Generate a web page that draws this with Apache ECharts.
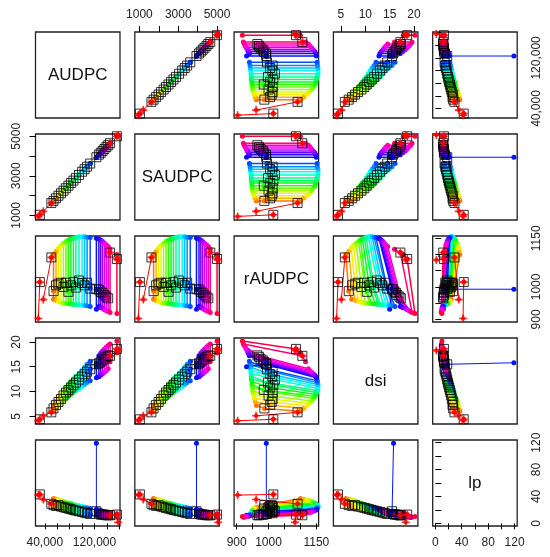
<!DOCTYPE html>
<html>
<head>
<meta charset="utf-8">
<script src="https://cdn.jsdelivr.net/npm/echarts@6/dist/echarts.min.js"></script>
<style>html,body{margin:0;background:#fff}#chart{width:550px;height:557px}</style>
</head>
<body>
<div id="chart"></div>
<script>
var varNames = ['AUDPC', 'SAUDPC', 'rAUDPC', 'dsi', 'lp'];

// observed values (black squares), one per group, ordered by AUDPC
var audpc = [32000, 50500, 54000, 58000, 62000, 66000, 70000, 74000, 78000, 82000, 86000, 90000, 95000,
    100000, 104000, 108000, 113000, 123000, 127000, 130000, 133000, 136000, 139000, 142000, 145000, 156000];
var saudpc = [1025, 1620, 1730, 1860, 1990, 2115, 2245, 2370, 2500, 2630, 2755, 2885, 3045,
    3205, 3335, 3460, 3620, 3940, 4070, 4165, 4260, 4355, 4455, 4550, 4650, 5000];
var raudpc = [1015, 1091, 987, 1005, 1010, 1013, 1000, 1013, 985, 1005, 1015, 998, 1020,
    1012, 1005, 1013, 995, 993, 992, 985, 982, 975, 970, 965, 1106, 1086];
var dsi = [4.4, 5.8, 6.6, 7.3, 7.9, 8.5, 9.2, 9.8, 10.3, 10.8, 11.3, 11.8, 12.4,
    13.0, 13.5, 14.0, 14.5, 15.5, 15.7, 16.0, 16.3, 16.6, 17.0, 17.3, 17.2, 18.6];
var lp = [43, 29, 27, 26, 27, 25, 24, 23, 22, 21, 20, 19, 18,
    17, 16, 15, 14, 18, 14, 13, 13, 13, 12, 12, 12, 13];

// low rAUDPC end of each coloured trace
var raudpcLo = [null, null, 962, 958, 955, 952, 950, 950, 948, 948, 946, 946, 945,
    944, 943, 942, 940, 931, 940, 936, 934, 930, 927, 924, 921, 918];
var dsiLo = [null, null, 7.2, 8.0, 8.7, 9.4, 10.1, 10.8, 11.4, 12.0, 12.6, 13.1, 13.7,
    14.3, 14.9, 15.5, 16.1, 15.0, 17.2, 17.7, 18.2, 18.6, 19.0, 19.3, 19.6, 20.2];
var lpLo = [null, null, 24, 23, 22, 21, 20, 19, 18, 17, 16, 15, 15,
    14, 13, 13, 12, 12, 11, 11, 10, 10, 10, 9, 9, 10];

// high rAUDPC end of each coloured trace
var raudpcHi = [null, null, 1100, 1110, 1120, 1128, 1135, 1140, 1145, 1148, 1150, 1152, 1155,
    1155, 1155, 1153, 1152, 1150, 1148, 1145, 1140, 1135, 1130, 1125, 1116, 1100];
var dsiHi = [null, null, 6.0, 6.6, 7.1, 7.6, 8.1, 8.6, 9.0, 9.4, 9.8, 10.2, 10.6,
    11.0, 11.4, 11.8, 12.2, 12.8, 13.0, 13.3, 13.6, 13.9, 14.2, 14.6, 16.0, 17.8];
var lpHi = [null, null, 37, 36, 35, 34, 33, 31, 30, 29, 28, 27, 26,
    25, 24, 23, 22, 21, 20, 19, 18, 17, 16, 16, 15, 14];

// red marked points and the square each one joins
var redAudpc = [29500, 37500, 158000];
var redSaudpc = [945, 1200, 5060];
var redRaudpc = [903, 961, 1083];
var redDsi = [4.1, 5.1, 18.3];
var redLp = [42, 35.5, 1.5];
var redLink = [0, 1, 25];
var starGroups = [0, 1, 24, 25];

// the lp outlier (blue)
var outGroup = 17;
var outPoint = [123000, 3940, 993, 15.8, 119];

// axis ranges, ticks and labels
var axisMin = [25000, 762, 892, 3.45, -4];
var axisMax = [161000, 5116, 1157, 20.8, 124];
var tickVals = [
    [40000, 60000, 80000, 100000, 120000, 140000, 160000],
    [1000, 2000, 3000, 4000, 5000],
    [900, 950, 1000, 1050, 1100, 1150],
    [5, 10, 15, 20],
    [0, 20, 40, 60, 80, 100, 120]
];
var labelVals = [
    [40000, 120000],
    [1000, 3000, 5000],
    [900, 1000, 1150],
    [5, 10, 15, 20],
    [0, 40, 80, 120]
];

var n = audpc.length;
var colLeft = [35.5, 134.8, 234.1, 333.4, 432.7];
var rowTop = [32, 134, 236, 338, 440];
var cellW = 84.5, cellH = 86;
var font = '"Liberation Sans", Arial, sans-serif';

function rainbow(i) {
    var h = i / n * 6, k = Math.floor(h), f = h - k;
    var rgb = [[1, f, 0], [1 - f, 1, 0], [0, 1, f], [0, 1 - f, 1], [f, 0, 1], [1, 0, 1 - f]][k % 6];
    return 'rgb(' + rgb.map(function (v) { return Math.round(v * 255); }).join(',') + ')';
}

function point(i, which) {
    if (which === 'lo') return [audpc[i], saudpc[i], raudpcLo[i], dsiLo[i], lpLo[i]];
    if (which === 'hi') return [audpc[i], saudpc[i], raudpcHi[i], dsiHi[i], lpHi[i]];
    return [audpc[i], saudpc[i], raudpc[i], dsi[i], lp[i]];
}
function redPoint(k) {
    return [redAudpc[k], redSaudpc[k], redRaudpc[k], redDsi[k], redLp[k]];
}

function fmt(v, vi) {
    if (vi === 0) return String(v).replace(/\B(?=(\d{3})+(?!\d))/g, ',');
    return String(v);
}

var grids = [], xAxes = [], yAxes = [], series = [], graphics = [];

function makeAxis(vi, g, pos, show, isY) {
    return {
        gridIndex: g, type: 'value', position: pos,
        min: axisMin[vi], max: axisMax[vi],
        axisLine: { show: false }, splitLine: { show: false },
        axisTick: { show: show, customValues: tickVals[vi], length: 6, lineStyle: { color: '#000', width: 1 } },
        axisLabel: {
            show: show, customValues: labelVals[vi], rotate: isY ? 90 : 0,
            margin: isY ? 13 : 11, fontSize: 12, fontFamily: font, color: '#222',
            formatter: function (v) { return fmt(v, vi); }
        }
    };
}

var plus = 'path://M4,0h2v4h4v2h-4v4h-2v-4h-4v-2h4z';

for (var r = 0; r < 5; r++) {
    for (var c = 0; c < 5; c++) {
        var g = r * 5 + c;
        grids.push({ left: colLeft[c], top: rowTop[r], width: cellW, height: cellH,
            show: true, borderColor: '#222', borderWidth: 1.3, backgroundColor: '#fff' });

        var xPos = 'bottom', xShow = false;
        if (r === 0 && (c === 1 || c === 3)) { xPos = 'top'; xShow = true; }
        if (r === 4 && (c === 0 || c === 2 || c === 4)) { xShow = true; }
        var yPos = 'left', yShow = false;
        if (c === 4 && (r === 0 || r === 2 || r === 4)) { yPos = 'right'; yShow = true; }
        if (c === 0 && (r === 1 || r === 3)) { yShow = true; }
        xAxes.push(makeAxis(c, g, xPos, xShow, false));
        yAxes.push(makeAxis(r, g, yPos, yShow, true));

        if (r === c) {
            graphics.push({ type: 'text', x: colLeft[c] + cellW / 2, y: rowTop[r] + cellH / 2,
                style: { text: varNames[r], fontSize: 17, fontFamily: font, fill: '#111',
                    align: 'center', verticalAlign: 'middle' } });
            continue;
        }

        var base = { xAxisIndex: g, yAxisIndex: g, silent: true, animation: false };

        // coloured traces
        for (var i = 0; i < n; i++) {
            if (raudpcLo[i] === null) continue;
            var lo = point(i, 'lo'), sq = point(i, 'sq'), hi = point(i, 'hi');
            series.push(Object.assign({
                type: 'line', symbol: 'circle', symbolSize: 5, z: 2,
                data: [[lo[c], lo[r]], [sq[c], sq[r]], [hi[c], hi[r]]],
                lineStyle: { width: 1.5, color: rainbow(i) }, itemStyle: { color: rainbow(i) }
            }, base));
        }
        // dots of the groups without traces
        var plain = [];
        for (var i = 0; i < n; i++) {
            if (raudpcLo[i] === null) { var p = point(i, 'sq'); plain.push({ value: [p[c], p[r]], itemStyle: { color: rainbow(i) } }); }
        }
        series.push(Object.assign({ type: 'scatter', symbolSize: 5, z: 2, data: plain }, base));

        // blue outlier
        var os = point(outGroup, 'sq');
        series.push(Object.assign({
            type: 'line', symbol: 'circle', symbolSize: 5, z: 3,
            data: [[os[c], os[r]], [outPoint[c], outPoint[r]]],
            lineStyle: { width: 1, color: rainbow(outGroup) }, itemStyle: { color: rainbow(outGroup) }
        }, base));

        // red links
        for (var k = 0; k < redLink.length; k++) {
            var rp = redPoint(k), ls = point(redLink[k], 'sq');
            series.push(Object.assign({
                type: 'line', symbol: 'none', z: 3,
                data: [[rp[c], rp[r]], [ls[c], ls[r]]],
                lineStyle: { width: 1, color: '#ff0000' }
            }, base));
        }

        // squares
        var sqs = [];
        for (var i = 0; i < n; i++) { var p = point(i, 'sq'); sqs.push([p[c], p[r]]); }
        series.push(Object.assign({
            type: 'scatter', symbol: 'rect', symbolSize: 9, z: 4, data: sqs,
            itemStyle: { color: 'rgba(0,0,0,0)', borderColor: '#000', borderWidth: 1 }
        }, base));

        // red marks
        var reds = [];
        for (var k = 0; k < redLink.length; k++) { var rp = redPoint(k); reds.push([rp[c], rp[r]]); }
        for (var k = 0; k < starGroups.length; k++) { var p = point(starGroups[k], 'sq'); reds.push([p[c], p[r]]); }
        series.push(Object.assign({ type: 'scatter', symbol: 'circle', symbolSize: 4.5, z: 5, data: reds,
            itemStyle: { color: '#ff0000' } }, base));
        series.push(Object.assign({ type: 'scatter', symbol: plus, symbolSize: 8, z: 5, data: reds,
            itemStyle: { color: '#ff0000' } }, base));
    }
}

var chart = echarts.init(document.getElementById('chart'));
chart.setOption({
    animation: false,
    backgroundColor: '#fff',
    grid: grids,
    xAxis: xAxes,
    yAxis: yAxes,
    series: series,
    graphic: graphics
});
</script>
</body>
</html>
